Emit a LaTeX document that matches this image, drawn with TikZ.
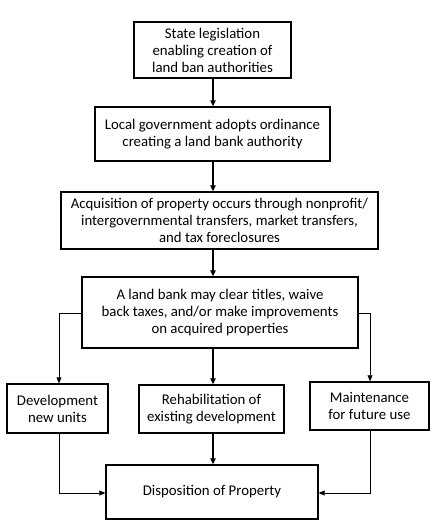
\documentclass[tikz,border=0pt]{standalone}
\usepackage{fontspec}
\setmainfont{Carlito}
\usetikzlibrary{arrows.meta}
\begin{document}
\begin{tikzpicture}[x=1pt,y=-1pt,
  box/.style={draw,line width=1.4pt,align=center,inner sep=0pt,font=\fontsize{14.8}{17}\selectfont},
  main/.style={line width=1.3pt,-{Triangle[length=6pt,width=5.5pt]}},
  side/.style={line width=0.6pt,-{Triangle[length=6pt,width=5pt]}}]
\useasboundingbox (0,0) rectangle (440,530);
\node[box,minimum width=157pt,minimum height=56pt] (b1) at (212.5,50) {State legislation\\enabling creation of\\land ban authorities};
\node[box,minimum width=235pt,minimum height=54pt] (b2) at (212.5,134) {Local government adopts ordinance\\creating a land bank authority};
\node[box,minimum width=317pt,minimum height=57pt] (b3) at (219.5,220.5) {Acquisition of property occurs through nonprofit/\\intergovernmental transfers, market transfers,\\and tax foreclosures};
\node[box,minimum width=276pt,minimum height=71pt] (b4) at (220,312.5) {A land bank may clear titles, waive\\back taxes, and/or make improvements\\on acquired properties};
\node[box,minimum width=101pt,minimum height=49pt] (dev) at (57.5,408.5) {Development\\new units};
\node[box,minimum width=145pt,minimum height=48pt] (reh) at (211.5,409) {Rehabilitation of\\existing development};
\node[box,minimum width=119pt,minimum height=48pt] (mnt) at (369.5,406) {Maintenance\\for future use};
\node[box,minimum width=212pt,minimum height=54pt] (dsp) at (212,492) {Disposition of Property};
\coordinate (sp) at (213,0);
\coordinate (lx) at (59,313);
\coordinate (rx) at (370,313);
\coordinate (ly) at (59,493);
\coordinate (ry) at (370,493);
\draw[main] (sp |- b1.south) -- (sp |- b2.north);
\draw[main] (sp |- b2.south) -- (sp |- b3.north);
\draw[main] (sp |- b3.south) -- (sp |- b4.north);
\draw[main] (sp |- b4.south) -- (sp |- reh.north);
\draw[main] (sp |- reh.south) -- (sp |- dsp.north);
\draw[side] (b4.west |- lx) -- (lx) -- (lx |- dev.north);
\draw[side] (b4.east |- rx) -- (rx) -- (rx |- mnt.north);
\draw[side] (lx |- dev.south) -- (ly) -- (dsp.west |- ly);
\draw[side] (rx |- mnt.south) -- (ry) -- (dsp.east |- ry);
\end{tikzpicture}
\end{document}
